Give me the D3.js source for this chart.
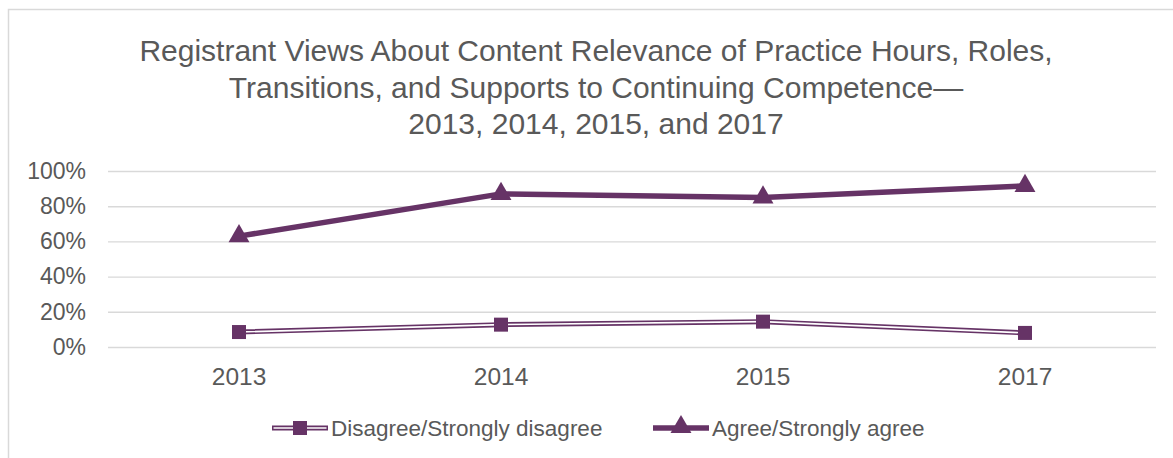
<!DOCTYPE html>
<html>
<head>
<meta charset="utf-8">
<script src="https://cdn.jsdelivr.net/npm/d3@7"></script>
<style>
  body { margin: 0; background: #fff; }
  text { fill: #595959; }
</style>
</head>
<body>
<div id="chart"></div>
<script>
const years = ["2013", "2014", "2015", "2017"];
const disagree = [0.085, 0.127, 0.144, 0.08];
const agree = [0.63, 0.87, 0.85, 0.915];
const yTicks = [0, 0.2, 0.4, 0.6, 0.8, 1.0];
const titleLines = [
  "Registrant Views About Content Relevance of Practice Hours, Roles,",
  "Transitions, and Supports to Continuing Competence\u2014",
  "2013, 2014, 2015, and 2017"
];
const seriesNames = ["Disagree/Strongly disagree", "Agree/Strongly agree"];

const width = 1173, height = 458;
const margin = { top: 171, left: 108, right: 17, bottom: 111 };
const purple = "#663366";
const grid = "#d9d9d9";

const svg = d3.select("#chart").append("svg")
  .attr("width", width)
  .attr("height", height);

// chart frame (only top + left visible in the crop)
svg.append("path")
  .attr("d", `M8.5,${height} L8.5,9.5 L${width},9.5`)
  .attr("fill", "none")
  .attr("stroke", grid)
  .attr("stroke-width", 1.5);

// title
svg.append("text")
  .attr("text-anchor", "middle")
  .style("font", "30px 'Liberation Sans', Arial, sans-serif")
  .selectAll("tspan")
  .data(titleLines)
  .enter().append("tspan")
  .attr("x", 596)
  .attr("y", (d, i) => 61 + i * 36.5)
  .text(d => d);

const x = d3.scaleBand()
  .domain(years)
  .range([margin.left, width - margin.right]);

const y = d3.scaleLinear()
  .domain([0, 1])
  .range([height - margin.bottom, margin.top]);

// y axis with gridlines
const yAxis = g => g
  .attr("transform", `translate(${margin.left},0)`)
  .call(d3.axisLeft(y).tickValues(yTicks).tickFormat(d3.format(".0%"))
    .tickSize(-(width - margin.left - margin.right)).tickPadding(22))
  .call(g => g.select(".domain").remove())
  .call(g => g.selectAll(".tick line").attr("stroke", grid).attr("stroke-width", 1.4))
  .call(g => g.selectAll(".tick text")
    .style("font", "23px 'Liberation Sans', Arial, sans-serif")
    .attr("fill", "#595959"));

svg.append("g").call(yAxis);

// x axis labels
const xAxis = g => g
  .attr("transform", `translate(0,${height - margin.bottom})`)
  .call(d3.axisBottom(x).tickSize(0).tickPadding(21))
  .call(g => g.select(".domain").remove())
  .call(g => g.selectAll(".tick text")
    .style("font", "24.5px 'Liberation Sans', Arial, sans-serif")
    .attr("fill", "#595959"));

svg.append("g").call(xAxis);

const line = d3.line()
  .x((d, i) => x(years[i]) + x.bandwidth() / 2)
  .y(d => y(d));

const g = svg.append("g");

// disagree: compound line (purple with white core)
g.append("path").datum(disagree)
  .attr("d", line).attr("fill", "none")
  .attr("stroke", purple).attr("stroke-width", 5);
g.append("path").datum(disagree)
  .attr("d", line).attr("fill", "none")
  .attr("stroke", "#fff").attr("stroke-width", 1.6);

g.selectAll(".sq")
  .data(disagree)
  .enter().append("rect")
  .attr("class", "sq")
  .attr("x", (d, i) => x(years[i]) + x.bandwidth() / 2 - 7)
  .attr("y", d => y(d) - 7)
  .attr("width", 14).attr("height", 14)
  .attr("fill", purple);

// agree: thick line with triangles
g.append("path").datum(agree)
  .attr("d", line).attr("fill", "none")
  .attr("stroke", purple).attr("stroke-width", 5.5)
  .attr("stroke-linejoin", "round");

const tri = d3.symbol().type(d3.symbolTriangle).size(190);
g.selectAll(".tri")
  .data(agree)
  .enter().append("path")
  .attr("class", "tri")
  .attr("d", tri)
  .attr("transform", (d, i) => `translate(${x(years[i]) + x.bandwidth() / 2},${y(d)})`)
  .attr("fill", purple);

// legend
const legendY = 428;
const legend = svg.append("g");
const items = [
  { name: seriesNames[0], x0: 272, type: "square" },
  { name: seriesNames[1], x0: 653, type: "triangle" }
];
const symLen = 56;

items.forEach(it => {
  const lg = legend.append("g").attr("transform", `translate(${it.x0},${legendY})`);
  if (it.type === "square") {
    lg.append("line").attr("x1", 0).attr("x2", symLen)
      .attr("stroke", purple).attr("stroke-width", 5);
    lg.append("line").attr("x1", 1.5).attr("x2", symLen - 1.5)
      .attr("stroke", "#fff").attr("stroke-width", 1.6);
    lg.append("rect").attr("x", symLen / 2 - 7).attr("y", -7).attr("width", 14).attr("height", 14)
      .attr("fill", purple);
  } else {
    lg.append("line").attr("x1", 0).attr("x2", symLen)
      .attr("stroke", purple).attr("stroke-width", 5.5);
    lg.append("path").attr("d", tri).attr("transform", `translate(${symLen / 2},-1)`)
      .attr("fill", purple);
  }
  lg.append("text")
    .attr("x", symLen + 3)
    .attr("dy", "0.35em")
    .style("font", "22.5px 'Liberation Sans', Arial, sans-serif")
    .text(it.name);
});
</script>
</body>
</html>
